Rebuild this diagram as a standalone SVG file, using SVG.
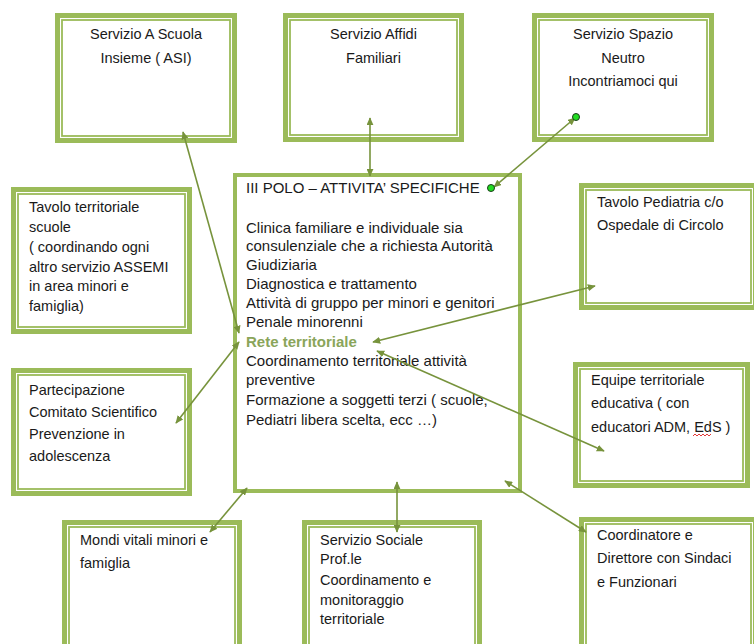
<svg xmlns="http://www.w3.org/2000/svg" width="754" height="644" viewBox="0 0 754 644">
<style>
.o{fill:#fff;stroke:#9BBB59;stroke-width:5}
.i{fill:none;stroke:#9BBB59;stroke-width:1.8}
.m{fill:#fff;stroke:#9BBB59;stroke-width:4}
text{font-family:"Liberation Sans",Arial,sans-serif;font-size:14.5px;fill:#1a1a1a}
.c{text-anchor:middle}
.p text{font-size:15px}
.p text.g{fill:#8AA55A;font-weight:bold}
.ln{stroke:#77933C;stroke-width:1.6;fill:none;marker-start:url(#ah);marker-end:url(#ah)}
.dot{fill:#22dd22;stroke:#1a3a1a;stroke-width:1}
</style>
<defs>
<marker id="ah" viewBox="0 0 10 10" refX="9" refY="5" markerWidth="8" markerHeight="7" orient="auto-start-reverse" markerUnits="userSpaceOnUse" preserveAspectRatio="none">
<path d="M0,0 L10,5 L0,10 z" fill="#77933C"/>
</marker>
</defs>
<rect width="754" height="644" fill="#fff"/>

<g id="asi">
<rect class="o" x="57.5" y="15.5" width="177" height="125"/>
<rect class="i" x="62" y="20" width="168" height="116"/>
<text class="c" x="146" y="39">Servizio A Scuola</text>
<text class="c" x="146" y="63">Insieme ( ASI)</text>
</g>
<g id="affidi">
<rect class="o" x="285.5" y="15.5" width="176" height="124"/>
<rect class="i" x="290" y="20" width="167" height="115"/>
<text class="c" x="373.5" y="39">Servizio Affidi</text>
<text class="c" x="373.5" y="63">Familiari</text>
</g>
<g id="spazio">
<rect class="o" x="534.5" y="15.5" width="177" height="124"/>
<rect class="i" x="539" y="20" width="168" height="115"/>
<text class="c" x="623" y="39">Servizio Spazio</text>
<text class="c" x="623" y="63">Neutro</text>
<text class="c" x="623" y="86">Incontriamoci qui</text>
</g>
<g id="tavolo-scuole">
<rect class="o" x="13.5" y="189.5" width="176" height="142"/>
<rect class="i" x="18" y="194" width="167" height="133"/>
<text x="29" y="212">Tavolo territoriale</text>
<text x="29" y="232">scuole</text>
<text x="29" y="252">( coordinando ogni</text>
<text x="29" y="272">altro servizio ASSEMI</text>
<text x="29" y="291">in area minori e</text>
<text x="29" y="311">famiglia)</text>
</g>
<g id="partecipazione">
<rect class="o" x="13.5" y="370.5" width="176" height="123"/>
<rect class="i" x="18" y="375" width="167" height="114"/>
<text x="29" y="395">Partecipazione</text>
<text x="29" y="417">Comitato Scientifico</text>
<text x="29" y="439">Prevenzione in</text>
<text x="29" y="461">adolescenza</text>
</g>
<g id="pediatria">
<rect class="o" x="581.5" y="185.5" width="174" height="122"/>
<rect class="i" x="586" y="190" width="165" height="113"/>
<text x="597" y="207">Tavolo Pediatria c/o</text>
<text x="597" y="230">Ospedale di Circolo</text>
</g>
<g id="equipe">
<rect class="o" x="575.5" y="364.5" width="172" height="121"/>
<rect class="i" x="580" y="369" width="163" height="112"/>
<text x="591" y="385">Equipe territoriale</text>
<text x="591" y="408">educativa ( con</text>
<text x="591" y="432">educatori ADM, EdS )</text>
<path d="M693,436 l2,-2 l2,2 l2,-2 l2,2 l2,-2 l2,2 l2,-2 l2,2 l2,-2" fill="none" stroke="#e02020" stroke-width="0.9"/>
</g>
<g id="mondi">
<rect class="o" x="64.5" y="522.5" width="175" height="135"/>
<rect class="i" x="69" y="527" width="166" height="130"/>
<text x="80" y="545">Mondi vitali minori e</text>
<text x="80" y="568">famiglia</text>
</g>
<g id="sociale">
<rect class="o" x="304.5" y="522.5" width="175" height="135"/>
<rect class="i" x="309" y="527" width="166" height="130"/>
<text x="320" y="545">Servizio Sociale</text>
<text x="320" y="564">Prof.le</text>
<text x="320" y="585">Coordinamento e</text>
<text x="320" y="605">monitoraggio</text>
<text x="320" y="624">territoriale</text>
</g>
<g id="coordinatore">
<rect class="o" x="581.5" y="519.5" width="174" height="135"/>
<rect class="i" x="586" y="524" width="165" height="130"/>
<text x="597" y="540">Coordinatore e</text>
<text x="597" y="563">Direttore con Sindaci</text>
<text x="597" y="587">e Funzionari</text>
</g>
<g id="polo" class="p">
<rect class="m" x="235" y="175" width="285" height="316"/>
<text x="246" y="193">III POLO – ATTIVITA’ SPECIFICHE</text>
<text x="246" y="233">Clinica familiare e individuale sia</text>
<text x="246" y="251">consulenziale che a richiesta Autorità</text>
<text x="246" y="270">Giudiziaria</text>
<text x="246" y="289">Diagnostica e trattamento</text>
<text x="246" y="308">Attività di gruppo per minori e genitori</text>
<text x="246" y="327">Penale minorenni</text>
<text class="g" x="246" y="347">Rete territoriale</text>
<text x="246" y="366">Coordinamento territoriale attività</text>
<text x="246" y="385">preventive</text>
<text x="246" y="405">Formazione a soggetti terzi ( scuole,</text>
<text x="246" y="425">Pediatri libera scelta, ecc …)</text>
</g>
<g id="connectors">
<line class="ln" x1="183" y1="132" x2="239" y2="333"/>
<line class="ln" x1="239" y1="342" x2="176" y2="423"/>
<line class="ln" x1="370" y1="118" x2="370" y2="176"/>
<line class="ln" x1="494" y1="187" x2="575" y2="118"/>
<line class="ln" x1="595" y1="286" x2="373" y2="342"/>
<line class="ln" x1="604" y1="451" x2="377" y2="351"/>
<line class="ln" x1="505" y1="481" x2="586" y2="532"/>
<line class="ln" x1="397" y1="482" x2="397" y2="532"/>
<line class="ln" x1="247" y1="488" x2="210" y2="532"/>
<circle class="dot" cx="576" cy="117" r="3.5"/>
<circle class="dot" cx="491" cy="188" r="3.5"/>
</g>
</svg>
